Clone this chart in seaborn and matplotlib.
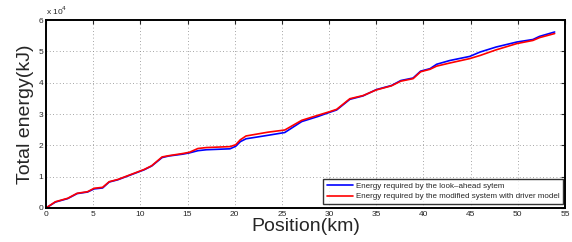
import numpy as np
import pandas as pd
import matplotlib
matplotlib.use("Agg")
import matplotlib.pyplot as plt
import matplotlib.ticker as mticker
import seaborn as sns

# Data (position in km, energy in kJ / 1e4)
position_km = [0, 1.0, 2.3, 3.3, 4.4, 5.1, 6.0, 6.7, 7.6, 9.0, 10.4, 11.2, 12.3, 13.0,
               14.5, 15.2, 16.1, 17.0, 19.5, 20.1, 20.6, 21.2, 23.5, 25.3, 27.1, 28.8,
               30.1, 30.8, 32.2, 33.6, 35.0, 36.6, 37.6, 38.9, 39.7, 40.7, 41.4, 42.8,
               44.9, 46.0, 47.7, 49.9, 51.6, 52.3, 53.9]
energy_lookahead = [0, 0.19, 0.30, 0.46, 0.51, 0.61, 0.64, 0.83, 0.90, 1.06, 1.22, 1.34,
                    1.61, 1.66, 1.72, 1.76, 1.83, 1.86, 1.89, 1.97, 2.12, 2.21, 2.32, 2.41,
                    2.76, 2.92, 3.06, 3.13, 3.47, 3.58, 3.78, 3.91, 4.07, 4.15, 4.37, 4.45,
                    4.59, 4.71, 4.84, 4.98, 5.14, 5.30, 5.38, 5.48, 5.62]
energy_driver = [0, 0.20, 0.31, 0.47, 0.52, 0.63, 0.66, 0.84, 0.91, 1.07, 1.23, 1.35,
                 1.63, 1.67, 1.74, 1.78, 1.90, 1.93, 1.96, 2.02, 2.18, 2.30, 2.42, 2.49,
                 2.80, 2.96, 3.08, 3.15, 3.49, 3.59, 3.77, 3.90, 4.05, 4.13, 4.35, 4.43,
                 4.53, 4.63, 4.77, 4.87, 5.05, 5.25, 5.35, 5.44, 5.57]
series_names = ["Energy required by the look\u2013ahead sytem",
                "Energy required by the modified system with driver model"]

df = pd.DataFrame({
    "position": position_km * 2,
    "energy": [v * 1e4 for v in energy_lookahead + energy_driver],
    "series": [series_names[0]] * len(position_km) + [series_names[1]] * len(position_km),
})

sns.set_style("white")
plt.rcParams["font.family"] = ["Liberation Sans", "DejaVu Sans"]

fig = plt.figure(figsize=(5.72, 2.42), dpi=100)
ax = fig.add_axes([0.0804, 0.1405, 0.9074, 0.7765])

sns.lineplot(data=df, x="position", y="energy", hue="series",
             palette=["#0000ff", "#ff0000"], linewidth=1.2, ax=ax)

ax.set_xlim(0, 55)
ax.set_ylim(0, 6e4)
ax.set_xticks(np.arange(0, 56, 5))
ax.set_yticks(np.arange(0, 6.1e4, 1e4))
ax.yaxis.set_major_formatter(mticker.FuncFormatter(lambda v, p: f"{v / 1e4:g}"))
ax.grid(True, linestyle=(0, (1, 3)), color="#888888", linewidth=0.6)
ax.tick_params(direction="in", length=3, labelsize=6, top=True, right=True,
               width=0.8, pad=2)
for s in ax.spines.values():
    s.set_linewidth(1.4)
    s.set_color("black")

ax.set_xlabel("Position(km)", fontsize=14, labelpad=0)
ax.set_ylabel("Total energy(kJ)", fontsize=14, labelpad=3)
ax.text(0.0, 1.015, r"x 10$^{4}$", transform=ax.transAxes, fontsize=6,
        ha="left", va="bottom")

leg = ax.legend(loc="lower right", bbox_to_anchor=(1.004, 0.0), fontsize=5.8,
                frameon=True, fancybox=False, edgecolor="black", handlelength=3.2,
                borderpad=0.45, labelspacing=0.35, handletextpad=0.4)
leg.get_frame().set_linewidth(1.0)

fig.savefig("out.png", dpi=100)
